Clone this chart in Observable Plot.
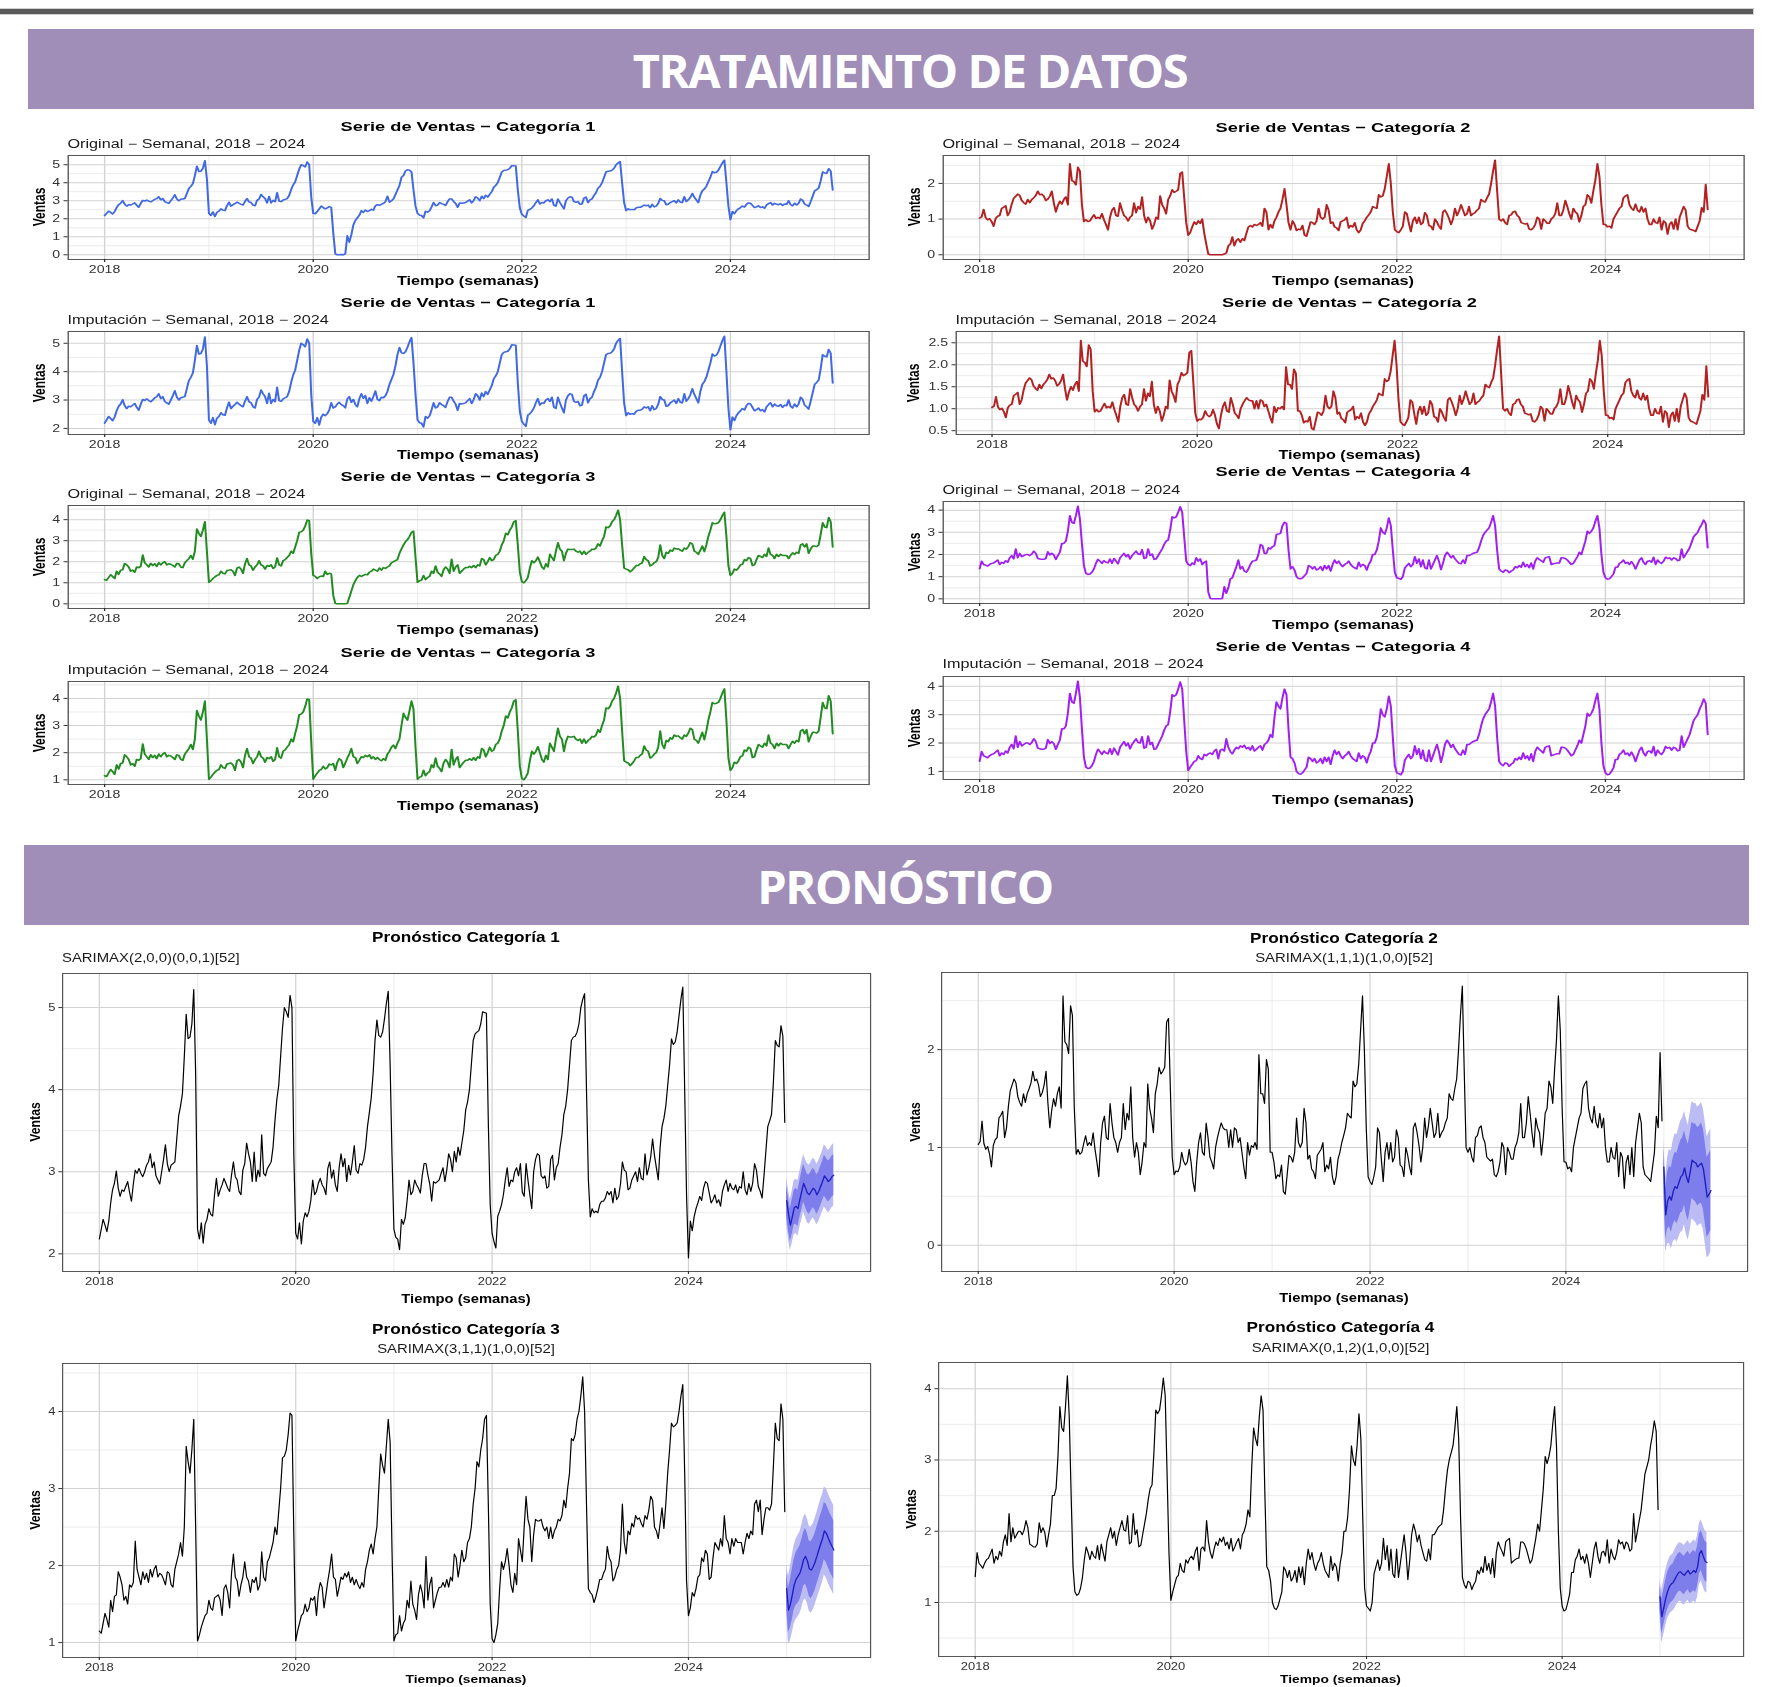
<!DOCTYPE html>
<html><head><meta charset="utf-8">
<script src="https://cdn.jsdelivr.net/npm/d3@7"></script>
<script src="https://cdn.jsdelivr.net/npm/@observablehq/plot@0.6"></script>
<style>
html,body{margin:0;padding:0;background:#fff;}
body{width:1777px;height:1687px;position:relative;overflow:hidden;font-family:"Liberation Sans",Arial,sans-serif;}
.chart{position:absolute;transform-origin:0 0;}
.topline{position:absolute;left:0;top:9px;width:1753px;height:5px;background:#5a5a5a;box-shadow:0 0 0 1px #cfcfcf;}
.banner{position:absolute;background:#a08db8;}
.btext{position:absolute;color:#fff;font-family:"Open Sans",sans-serif;font-weight:700;font-size:47px;letter-spacing:-1.4px;white-space:nowrap;line-height:1;transform:translate(-50%,-50%);}
</style>
</head><body>
<div class="topline"></div>
<div class="banner" style="left:28px;top:29px;width:1726px;height:80px;"></div>
<div class="btext" style="left:910px;top:70px;">TRATAMIENTO DE DATOS</div>
<div class="banner" style="left:24px;top:845px;width:1725px;height:80px;"></div>
<div class="btext" style="left:905px;top:886px;">PRONÓSTICO</div>
<script>
// ---------------- DATA (weekly, 52 per year) ----------------
const xMajor = [2018, 2020, 2022, 2024];
const xMinor = [2019, 2021, 2023, 2025];

// Categoría 1
const cat1_2018 = [2.18,2.30,2.42,2.35,2.27,2.40,2.62,2.78,2.86,3.01, 2.80,2.70,2.78,2.76,2.82,2.88,2.75,2.64,2.85,3.02, 2.98,3.04,2.98,2.94,3.00,3.08,3.12,3.22,3.05,3.12, 2.95,2.90,2.85,3.00,3.15,3.33,3.10,3.00,3.08,3.10, 3.12,3.40,3.68,3.80,3.95,4.40,4.92,4.62,4.64,4.80, 5.22,4.20];
const cat1_2019 = [2.30,2.18,2.38,2.13,2.36,2.42,2.55,2.48,2.46,2.72, 2.92,2.70,2.78,2.84,2.92,2.86,2.80,2.76,2.96,3.12, 2.94,2.90,2.76,2.72,3.02,3.10,3.35,3.22,3.12,2.88, 3.24,2.88,3.02,2.94,3.45,2.98,2.95,3.04,3.08,3.12, 3.30,3.62,3.88,4.05,4.40,4.75,5.00,4.95,4.88,5.15, 5.00,3.20];
const cat1_2020imp = [2.25,2.18,2.38,2.12,2.40,2.50,2.45,2.52,2.65,2.90, 2.72,2.76,2.86,2.92,2.84,2.80,2.72,3.04,3.12,2.92, 3.02,2.84,2.76,3.05,3.22,3.06,3.16,2.88,3.08,2.96, 3.12,3.32,3.02,2.98,3.10,3.08,3.15,3.30,3.55,3.72, 3.90,4.20,4.60,4.85,4.66,4.64,4.70,4.86,5.05,5.20, 4.30,3.20];
const cat1_2020orig = [2.30,2.28,2.40,2.55,2.70,2.62,2.55,2.60,2.68,2.62, 1.20,0.05,0.00,0.00,0.02,0.00,0.05,1.05,0.70,1.10, 1.65,1.90,2.05,2.20,2.45,2.35,2.48,2.40,2.45,2.52, 2.48,2.72,2.78,2.75,2.80,2.85,2.95,3.25,2.92,3.00, 3.10,3.35,3.60,3.85,4.30,4.40,4.65,4.72,4.70,4.60, 3.60,2.70];
const cat1_2021 = [2.30,2.20,2.18,2.05,2.42,2.36,2.44,2.65,2.90,2.72, 2.76,2.90,2.84,2.80,2.74,2.95,3.10,3.10,2.96,2.85, 2.64,2.88,2.86,2.88,2.90,2.98,3.05,2.88,3.02,3.22, 3.15,3.00,3.25,3.12,3.30,3.20,3.35,3.50,3.75,3.85, 4.00,4.30,4.60,4.68,4.70,4.72,4.80,4.95,4.94,4.93, 3.60,2.60];
const cat1_2022 = [2.25,2.15,2.07,2.46,2.52,2.60,2.72,2.90,3.05,2.82, 2.90,2.88,3.00,3.05,2.95,3.10,2.75,2.70,3.10,2.90, 2.72,2.55,3.00,3.15,3.22,3.20,2.95,2.92,2.95,2.80, 2.82,3.15,3.20,2.90,3.05,3.10,3.30,3.45,3.70,3.80, 4.00,4.30,4.60,4.64,4.65,4.70,4.80,5.00,5.10,5.17, 4.00,2.90];
const cat1_2023 = [2.45,2.55,2.50,2.52,2.50,2.60,2.64,2.64,2.68,2.76, 2.72,2.76,2.62,2.80,2.66,2.70,2.85,3.12,3.02,3.00, 2.78,2.80,2.90,2.95,3.00,2.88,3.05,2.92,2.90,3.22, 2.96,3.05,3.18,3.40,3.20,3.05,2.90,3.30,3.55,3.65, 3.80,4.05,4.30,4.62,4.55,4.58,4.70,4.90,5.10,5.25, 4.00,2.70];
const cat1_2024 = [1.95,2.40,2.28,2.45,2.55,2.62,2.70,2.65,2.80,2.88, 2.86,2.74,2.62,2.66,2.72,2.62,2.66,2.58,2.76,2.84, 2.90,2.76,2.86,2.80,2.78,2.84,2.74,2.82,2.80,3.00, 2.78,2.72,2.86,2.76,2.86,3.10,3.02,2.82,2.76,2.68, 2.95,3.25,3.55,3.62,3.70,4.10,4.60,4.54,4.52,4.78, 4.65,3.60];
const cat1_fcMean = [2.65,2.48,2.35,2.45,2.56,2.58,2.55,2.66,2.76,2.86, 2.80,2.74,2.72,2.76,2.80,2.78,2.72,2.76,2.82,2.88, 2.95,2.92,2.88,2.90,2.94,2.96];
const cat1_fcW80 = [0.18,0.20,0.20,0.21,0.21,0.22,0.22,0.22,0.23,0.23, 0.23,0.23,0.24,0.24,0.24,0.24,0.24,0.24,0.24,0.24, 0.25,0.25,0.25,0.25,0.25,0.25];
const cat1_fcW95 = [0.28,0.30,0.31,0.32,0.33,0.33,0.34,0.34,0.35,0.35, 0.35,0.36,0.36,0.36,0.36,0.37,0.37,0.37,0.37,0.37, 0.38,0.38,0.38,0.38,0.38,0.38];

// Categoría 2
const cat2_2018 = [1.03,1.06,1.27,1.04,0.98,1.01,0.93,0.80,1.02,1.08, 1.10,1.30,1.33,1.37,1.10,1.20,1.42,1.58,1.64,1.70, 1.66,1.52,1.46,1.42,1.55,1.46,1.55,1.60,1.66,1.78, 1.68,1.70,1.64,1.52,1.56,1.64,1.78,1.45,1.20,1.38, 1.50,1.42,1.55,1.62,1.40,2.55,2.08,2.05,1.96,2.45, 2.35,1.40];
const cat2_2019 = [0.93,0.98,0.93,0.95,1.04,1.12,1.02,1.05,1.02,1.15, 0.98,0.85,0.70,1.05,1.25,1.32,1.10,1.08,1.45,1.25, 1.10,1.05,0.95,1.05,1.10,1.45,1.18,1.35,1.28,1.62, 1.10,0.90,1.05,0.95,0.72,0.85,1.05,1.00,1.65,1.40, 1.30,1.15,1.55,1.65,1.82,1.75,1.78,1.82,2.28,2.32, 1.60,0.90];
const cat2_2020imp = [0.72,0.76,0.75,0.80,0.95,0.86,0.82,0.85,0.98,0.85, 0.65,0.55,0.85,1.05,1.15,0.95,0.92,1.25,1.10,0.90, 0.85,0.78,1.00,1.10,1.18,1.25,1.20,1.18,1.18,1.00, 1.18,1.00,1.20,1.18,1.05,1.10,0.95,0.80,0.68,1.05, 0.92,1.02,1.00,1.05,0.98,1.95,1.55,1.55,1.45,1.90, 1.80,0.95];
const cat2_2020orig = [0.55,0.62,0.78,0.92,0.85,0.95,0.88,1.00,0.60,0.30, 0.02,0.00,0.00,0.00,0.00,0.00,0.00,0.00,0.02,0.05, 0.25,0.30,0.50,0.25,0.40,0.45,0.35,0.45,0.40,0.60, 0.78,0.82,0.78,0.85,0.82,0.85,0.90,0.80,1.30,1.20, 0.70,0.85,0.75,0.95,1.05,1.20,1.30,1.55,1.85,1.40, 0.90,0.70];
const cat2_2021 = [0.95,0.85,0.68,0.72,0.70,0.82,0.55,0.52,0.72,0.92, 0.90,0.85,0.95,1.30,1.05,1.00,1.05,1.40,1.25,0.88, 0.92,0.78,0.75,0.68,0.92,0.95,0.98,1.05,0.75,0.82, 0.78,0.90,0.70,0.62,0.70,0.88,0.95,1.05,1.12,1.20, 1.35,1.32,1.30,1.68,1.62,1.65,1.85,2.20,2.55,2.00, 1.20,0.70];
const cat2_2022 = [0.65,0.62,0.70,0.80,1.20,1.15,0.88,0.65,0.95,1.05, 0.88,1.05,0.85,0.90,1.18,1.10,0.82,0.80,0.70,1.00, 0.92,0.80,0.72,1.20,1.25,1.15,1.02,0.85,1.00,1.30, 1.10,1.22,1.40,1.25,1.10,1.15,1.35,1.10,1.15,1.18, 1.25,1.30,1.55,1.50,1.48,1.60,1.70,2.00,2.35,2.65, 1.80,1.00];
const cat2_2023 = [0.95,1.00,0.90,0.85,1.10,1.12,1.20,1.22,1.10,1.05, 0.90,0.88,0.86,0.88,0.72,0.70,0.75,0.85,1.05,1.00, 0.72,1.00,0.95,0.88,0.88,1.00,1.05,1.15,1.45,1.10, 1.10,1.25,1.52,1.35,1.15,1.00,1.30,1.20,1.15,0.92, 1.10,1.35,1.40,1.68,1.62,1.45,1.80,2.10,2.55,2.20, 1.40,0.85];
const cat2_2024 = [0.85,0.78,0.80,0.75,1.00,1.10,1.20,1.30,1.35,1.60, 1.65,1.68,1.40,1.30,1.25,1.42,1.25,1.20,1.35,1.20, 1.30,1.00,0.85,0.85,1.00,0.90,0.88,1.05,0.70,0.95, 0.90,0.58,0.85,0.92,0.72,1.00,0.70,1.05,1.20,1.35, 1.25,0.80,0.72,0.70,0.68,0.65,0.80,0.95,1.32,1.20, 1.97,1.27];
const cat2_fcMean = [0.80,0.31,0.45,0.50,0.46,0.55,0.60,0.58,0.64,0.70, 0.72,0.79,0.70,0.64,0.75,0.87,0.85,0.84,0.80,0.82, 0.84,0.78,0.64,0.49,0.52,0.56];
const cat2_fcW80 = [0.18,0.25,0.29,0.31,0.33,0.34,0.35,0.36,0.37,0.37, 0.38,0.38,0.39,0.39,0.39,0.39,0.39,0.40,0.40,0.40, 0.41,0.41,0.41,0.41,0.41,0.41];
const cat2_fcW95 = [0.27,0.38,0.44,0.48,0.50,0.52,0.54,0.55,0.56,0.57, 0.58,0.58,0.59,0.59,0.60,0.60,0.60,0.61,0.61,0.61, 0.62,0.62,0.62,0.62,0.63,0.63];

// Categoría 3
const cat3_2018 = [1.15,1.12,1.25,1.38,1.30,1.20,1.55,1.40,1.60,1.62, 1.92,1.85,1.75,1.55,1.60,1.50,1.75,1.72,1.78,2.32, 1.95,1.85,1.75,1.92,1.82,1.90,1.78,1.95,1.85,1.95, 2.00,1.85,1.90,1.88,1.82,1.75,1.92,1.90,1.75,1.72, 1.95,2.05,2.15,2.30,2.12,2.50,3.55,3.35,3.20,3.50, 3.90,2.50];
const cat3_2019 = [1.02,1.10,1.20,1.28,1.35,1.38,1.55,1.45,1.42,1.58, 1.60,1.62,1.55,1.35,1.70,1.75,1.65,1.45,1.90,2.15, 1.85,1.80,1.60,1.75,1.85,2.05,1.85,1.80,1.65,1.82, 1.78,1.85,1.68,1.75,2.18,1.85,1.80,2.05,2.10,2.20, 2.30,2.50,2.40,2.70,3.00,3.40,3.42,3.50,3.70,3.98, 3.95,2.40];
const cat3_2020imp = [1.02,1.15,1.25,1.35,1.38,1.50,1.40,1.45,1.58,1.55, 1.60,1.35,1.65,1.78,1.72,1.45,1.62,1.80,1.95,2.15, 1.85,1.82,1.60,1.72,1.85,1.82,1.90,1.85,1.92,1.78, 1.85,1.75,1.82,1.75,1.70,1.78,1.72,1.95,2.05,2.20, 2.28,2.15,2.35,2.50,3.00,3.45,3.30,3.20,3.55,3.90, 3.60,2.20];
const cat3_2020orig = [1.35,1.30,1.20,1.28,1.32,1.30,1.55,1.40,1.45,1.42, 0.40,0.02,0.00,0.00,0.00,0.00,0.00,0.02,0.30,0.60, 0.90,1.10,1.25,1.35,1.30,1.35,1.40,1.38,1.50,1.55, 1.65,1.60,1.55,1.70,1.60,1.72,1.68,1.75,1.80,1.95, 2.00,2.05,2.10,2.40,2.60,2.80,2.95,3.05,3.20,3.40, 3.45,2.20];
const cat3_2021 = [1.02,1.10,1.12,1.35,1.15,1.25,1.30,1.55,1.45,1.80, 1.50,1.42,1.30,1.62,1.75,1.65,1.45,2.12,1.55,1.75, 1.85,1.45,1.55,1.65,1.72,1.72,1.78,1.72,1.82,1.72, 1.85,1.80,2.15,2.10,1.85,2.00,2.20,2.05,2.10,2.30, 2.35,2.50,2.80,3.00,3.35,3.28,3.50,3.65,3.90,3.95, 2.80,1.50];
const cat3_2022 = [1.05,1.00,1.10,1.25,1.70,2.05,1.95,2.05,2.22,2.00, 1.75,1.65,1.90,1.75,2.35,2.20,2.05,2.50,2.90,2.60, 2.50,2.05,2.40,2.60,2.58,2.58,2.60,2.50,2.45,2.50, 2.35,2.50,2.35,2.45,2.50,2.60,2.58,2.65,2.85,2.75, 3.00,3.20,3.65,3.62,3.70,3.90,4.00,4.20,4.45,4.00, 2.80,1.70];
const cat3_2023 = [1.65,1.62,1.52,1.60,1.70,1.82,1.82,1.90,1.95,2.25, 2.10,2.05,1.80,1.85,1.95,2.00,2.20,2.80,2.30,2.15, 2.45,2.40,2.55,2.50,2.65,2.60,2.62,2.55,2.50,2.65, 2.60,2.72,2.90,2.85,2.50,2.45,2.35,2.55,2.75,2.48, 2.80,3.20,3.50,3.85,3.80,3.82,3.85,4.00,4.20,4.35, 3.20,1.80];
const cat3_2024 = [1.35,1.45,1.65,1.60,1.70,1.85,1.88,2.10,2.05,2.20, 2.15,1.82,1.85,2.10,2.30,2.25,2.20,2.35,2.25,2.65, 2.35,2.30,2.15,2.35,2.25,2.35,2.30,2.30,2.30,2.15, 2.30,2.42,2.35,2.45,2.40,2.80,2.85,2.70,2.85,2.40, 2.60,2.75,2.75,2.72,2.80,3.30,3.85,3.65,3.62,4.10, 3.90,2.70];
const cat3_fcMean = [1.70,1.42,1.50,1.62,1.75,1.82,1.86,1.90,1.98,2.08, 2.12,2.06,1.96,1.94,1.98,2.04,2.12,2.20,2.28,2.35, 2.45,2.42,2.36,2.30,2.25,2.20];
const cat3_fcW80 = [0.20,0.29,0.31,0.33,0.33,0.34,0.35,0.35,0.35,0.35, 0.36,0.36,0.36,0.37,0.37,0.37,0.37,0.37,0.37,0.37, 0.37,0.38,0.38,0.38,0.38,0.38];
const cat3_fcW95 = [0.30,0.44,0.48,0.50,0.51,0.52,0.53,0.53,0.54,0.54, 0.55,0.55,0.55,0.56,0.56,0.56,0.56,0.57,0.57,0.57, 0.57,0.58,0.58,0.58,0.58,0.58];

// Categoría 4
const cat4_2018 = [1.36,1.70,1.55,1.52,1.48,1.55,1.60,1.62,1.68,1.75, 1.55,1.65,1.60,1.72,1.65,1.85,1.95,1.80,2.25,1.85, 2.05,1.90,1.95,2.00,2.00,1.95,2.02,2.15,2.05,1.82, 1.80,1.78,1.78,1.82,2.12,1.98,2.05,1.98,1.78,1.95, 2.10,2.50,2.50,2.60,3.05,3.75,3.45,3.40,3.75,4.18, 3.60,2.50];
const cat4_2019 = [1.50,1.15,1.10,1.12,1.20,1.35,1.60,1.78,1.70,1.60, 1.72,1.65,1.62,1.80,1.60,1.82,1.70,1.58,1.85,1.95, 2.05,1.90,2.00,1.80,1.95,2.05,2.15,2.02,2.00,2.22, 1.82,1.85,2.25,1.95,2.02,1.78,1.80,1.95,2.10,2.25, 2.45,2.60,2.65,3.10,3.70,3.65,3.70,3.90,4.15,3.90, 2.80,1.70];
const cat4_2020imp = [1.03,1.15,1.25,1.35,1.38,1.55,1.45,1.42,1.60,1.55, 1.62,1.65,1.60,1.72,1.78,1.45,1.75,1.78,1.72,2.15, 1.85,1.70,1.62,1.75,1.85,1.80,1.90,1.85,1.92,1.80, 1.85,1.75,1.90,1.72,1.78,1.85,1.90,1.75,1.95,2.00, 2.10,2.30,2.20,2.90,3.45,3.30,3.20,3.60,3.90,3.70, 2.50,1.50];
const cat4_2020orig = [1.55,1.50,1.62,1.55,1.85,1.70,1.80,1.55,1.65,1.70, 0.30,0.02,0.00,0.00,0.00,0.00,0.00,0.02,0.55,0.25, 0.50,0.90,0.95,1.20,1.45,1.75,1.35,1.45,1.25,1.20, 1.35,1.55,1.70,1.72,1.75,2.00,2.45,2.40,2.05,2.05, 2.30,2.25,2.35,2.40,2.90,2.92,2.95,3.30,3.45,3.40, 2.20,1.35];
const cat4_2021 = [1.45,1.30,1.00,0.92,0.90,0.95,1.05,1.15,1.50,1.45, 1.35,1.45,1.30,1.35,1.45,1.28,1.50,1.35,1.50,1.25, 1.55,1.75,1.60,1.70,1.55,1.45,1.55,1.60,1.70,1.55, 1.45,1.40,1.35,1.65,1.45,1.55,1.50,1.30,1.55,1.70, 2.00,2.00,2.20,2.60,3.20,3.00,2.92,3.20,3.65,3.30, 2.20,1.20];
const cat4_2022 = [0.95,0.92,0.88,1.00,1.40,1.50,1.60,1.45,1.55,1.90, 1.60,1.80,1.45,1.75,1.40,1.35,1.75,1.35,1.55,1.75, 1.95,1.70,1.32,1.60,1.95,2.10,2.00,1.85,1.95,1.80, 1.70,1.60,1.58,1.75,1.60,1.95,1.95,2.00,2.05,2.08, 2.10,2.30,2.60,2.85,3.00,3.10,3.20,3.45,3.75,3.30, 2.20,1.35];
const cat4_2023 = [1.25,1.20,1.30,1.28,1.18,1.25,1.30,1.45,1.40,1.50, 1.42,1.65,1.45,1.55,1.40,1.62,1.35,1.70,1.85,1.78, 1.72,1.65,1.85,1.88,1.90,1.55,1.58,1.60,1.62,1.62, 1.85,1.85,1.82,1.75,1.65,1.55,1.60,1.75,1.90,2.10, 2.00,2.30,2.60,3.05,2.95,3.05,3.20,3.50,3.75,3.20, 2.00,1.20];
const cat4_2024 = [0.95,0.88,0.90,1.00,1.12,1.42,1.42,1.60,1.65,1.75, 1.60,1.65,1.55,1.68,1.55,1.35,1.55,1.75,1.85,1.65, 1.55,1.70,1.72,1.65,1.88,1.55,1.75,1.65,1.60,1.70, 1.88,1.82,1.85,1.75,1.85,1.82,1.72,1.75,2.25,1.85, 2.00,2.15,2.30,2.55,2.80,2.90,3.00,3.20,3.35,3.55, 3.40,2.30];
const cat4_fcMean = [1.08,0.80,0.92,1.05,1.15,1.22,1.26,1.28,1.33,1.38, 1.42,1.43,1.40,1.38,1.42,1.45,1.40,1.42,1.45,1.42, 1.50,1.68,1.73,1.65,1.58,1.56];
const cat4_fcW80 = [0.16,0.24,0.25,0.25,0.26,0.26,0.26,0.26,0.27,0.27, 0.27,0.27,0.27,0.27,0.27,0.27,0.27,0.28,0.28,0.28, 0.28,0.28,0.28,0.28,0.28,0.28];
const cat4_fcW95 = [0.25,0.37,0.38,0.39,0.39,0.40,0.40,0.40,0.41,0.41, 0.41,0.41,0.42,0.42,0.42,0.42,0.42,0.42,0.43,0.43, 0.43,0.43,0.43,0.43,0.43,0.43];

// ---------------- BUILD TABLES ----------------
const startYear = 2018, freq = 52;
function weekly(values) { return values.map((v, i) => ({t: startYear + i / freq, v})); }
function forecast(mean, w80, w95) {
  return mean.map((m, j) => ({t: 2025 + j / freq, m, lo80: m - w80[j], hi80: m + w80[j], lo95: m - w95[j], hi95: m + w95[j]}));
}
const c1Orig = weekly([...cat1_2018, ...cat1_2019, ...cat1_2020orig, ...cat1_2021, ...cat1_2022, ...cat1_2023, ...cat1_2024]);
const c1Imp  = weekly([...cat1_2018, ...cat1_2019, ...cat1_2020imp,  ...cat1_2021, ...cat1_2022, ...cat1_2023, ...cat1_2024]);
const c2Orig = weekly([...cat2_2018, ...cat2_2019, ...cat2_2020orig, ...cat2_2021, ...cat2_2022, ...cat2_2023, ...cat2_2024]);
const c2Imp  = weekly([...cat2_2018, ...cat2_2019, ...cat2_2020imp,  ...cat2_2021, ...cat2_2022, ...cat2_2023, ...cat2_2024]);
const c3Orig = weekly([...cat3_2018, ...cat3_2019, ...cat3_2020orig, ...cat3_2021, ...cat3_2022, ...cat3_2023, ...cat3_2024]);
const c3Imp  = weekly([...cat3_2018, ...cat3_2019, ...cat3_2020imp,  ...cat3_2021, ...cat3_2022, ...cat3_2023, ...cat3_2024]);
const c4Orig = weekly([...cat4_2018, ...cat4_2019, ...cat4_2020orig, ...cat4_2021, ...cat4_2022, ...cat4_2023, ...cat4_2024]);
const c4Imp  = weekly([...cat4_2018, ...cat4_2019, ...cat4_2020imp,  ...cat4_2021, ...cat4_2022, ...cat4_2023, ...cat4_2024]);
const f1 = forecast(cat1_fcMean, cat1_fcW80, cat1_fcW95);
const f2 = forecast(cat2_fcMean, cat2_fcW80, cat2_fcW95);
const f3 = forecast(cat3_fcMean, cat3_fcW80, cat3_fcW95);
const f4 = forecast(cat4_fcMean, cat4_fcW80, cat4_fcW95);

// ---------------- DRAW ----------------
function expand([a, b]) { const r = b - a; return [a - 0.05 * r, b + 0.05 * r]; }
function addText(parent, txt, x, y, o) {
  const el = document.createElement("div");
  el.textContent = txt;
  const tx = o.anchor === "start" ? "0" : "-50%";
  el.style.cssText = `position:absolute;left:${x}px;top:${y}px;white-space:nowrap;line-height:1;` +
    `font-size:${o.size}px;font-weight:${o.bold ? 700 : 400};color:${o.color || "#000"};` +
    `transform:translate(${tx},-50%)${o.rotate ? " rotate(-90deg)" : ""};`;
  parent.appendChild(el);
}

function chart(o) {
  const sx = o.sx, mL = 30, mR = 8, mT = 4, mB = 24;
  const innerW = (o.PR - o.PL) / sx;
  const W = mL + innerW + mR;
  const H = mT + (o.PB - o.PT) + mB;
  const CL = o.PL - mL * sx, CT = o.PT - mT;
  const box = document.createElement("div");
  box.className = "chart";
  box.style.left = CL + "px"; box.style.top = CT + "px";
  box.style.width = W + "px"; box.style.height = H + "px";
  box.style.transform = `scaleX(${sx})`;
  document.body.appendChild(box);

  const vals = o.series.map(d => d.v);
  const ts = o.series.map(d => d.t);
  if (o.fc) o.fc.forEach(d => { vals.push(d.lo95, d.hi95); ts.push(d.t); });
  const yDom = expand(d3.extent(vals));
  const xDom = expand(d3.extent(ts));
  const inY = v => v > yDom[0] && v < yDom[1];
  const inX = v => v > xDom[0] && v < xDom[1];

  const marks = [
    Plot.gridX(xMinor.filter(inX), {stroke: "#e6e6e6", strokeOpacity: 1, strokeWidth: 0.7}),
    Plot.gridY(o.yMinor.filter(inY), {stroke: "#e6e6e6", strokeOpacity: 1, strokeWidth: 0.7}),
    Plot.gridX(xMajor, {stroke: "#d2d2d2", strokeOpacity: 1, strokeWidth: 1}),
    Plot.gridY(o.yTicks, {stroke: "#d2d2d2", strokeOpacity: 1, strokeWidth: 1})
  ];
  if (o.fc) {
    marks.push(
      Plot.areaY(o.fc, {x: "t", y1: "lo95", y2: "hi95", fill: "#bcbcf4"}),
      Plot.areaY(o.fc, {x: "t", y1: "lo80", y2: "hi80", fill: "#7d7dec"}),
      Plot.line(o.fc, {x: "t", y: "m", stroke: "#1c1cbf", strokeWidth: 1.1})
    );
  }
  marks.push(
    Plot.line(o.series, {x: "t", y: "v", stroke: o.color, strokeWidth: o.lw}),
    Plot.frame({stroke: "#555", strokeWidth: 1}),
    Plot.axisX(xMajor, {tickFormat: d => String(d), tickSize: 3, tickPadding: 3, fontSize: o.tick, label: null}),
    Plot.axisY(o.yTicks, {tickFormat: o.yFormat || (d => String(d)), tickSize: 3, tickPadding: 3, fontSize: o.tick, label: null})
  );
  const svg = Plot.plot({
    width: W, height: H, marginLeft: mL, marginRight: mR, marginTop: mT, marginBottom: mB,
    x: {domain: xDom, label: null},
    y: {domain: yDom, label: null},
    style: {fontFamily: "Liberation Sans, Arial, sans-serif", fontSize: o.tick + "px", color: "#333", background: "transparent", overflow: "visible"},
    marks
  });
  svg.style.position = "absolute"; svg.style.left = "0px"; svg.style.top = "0px";
  box.appendChild(svg);

  const cx = mL + innerW / 2;
  addText(box, o.title, cx, o.titleY - CT, {size: o.tSize, bold: true});
  if (o.subAlign === "start") addText(box, o.subtitle, mL, o.subY - CT, {size: o.sSize, anchor: "start", color: "#1a1a1a"});
  else addText(box, o.subtitle, cx, o.subY - CT, {size: o.sSize, color: "#1a1a1a"});
  addText(box, "Tiempo (semanas)", cx, o.xtY - CT, {size: o.xtSize || o.aSize, bold: true});
  addText(box, "Ventas", (o.ytX - CL) / sx, mT + (o.PB - o.PT) / 2, {size: o.aSize, bold: true, rotate: true});
}

const small = {sx: 1.35, tick: 10.5, tSize: 13.5, sSize: 12, aSize: 12, lw: 1.5, subAlign: "start"};
const big = {sx: 1.2, tick: 10.8, tSize: 14.3, sSize: 12.4, aSize: 12.3, lw: 1, color: "#000"};

const T1 = "Serie de Ventas − Categoría 1", T2 = "Serie de Ventas − Categoría 2",
      T3 = "Serie de Ventas − Categoría 3", T4 = "Serie de Ventas − Categoria 4";
const SO = "Original − Semanal, 2018 − 2024", SI = "Imputación − Semanal, 2018 − 2024";

chart({...small, series: c1Orig, color: "#4169e1", title: T1, subtitle: SO, PL: 67, PR: 868, PT: 155, PB: 259, titleY: 127, subY: 144, xtY: 281, ytX: 38, yTicks: [0,1,2,3,4,5], yMinor: [0.5,1.5,2.5,3.5,4.5]});
chart({...small, series: c1Imp, color: "#4169e1", title: T1, subtitle: SI, PL: 67, PR: 868, PT: 331, PB: 434, titleY: 302.5, subY: 319.5, xtY: 455, ytX: 38, yTicks: [2,3,4,5], yMinor: [2.5,3.5,4.5]});
chart({...small, series: c3Orig, color: "#228b22", title: T3, subtitle: SO, PL: 67, PR: 868, PT: 505, PB: 608, titleY: 477, subY: 494, xtY: 630, ytX: 38, yTicks: [0,1,2,3,4], yMinor: [0.5,1.5,2.5,3.5,4.5]});
chart({...small, series: c3Imp, color: "#228b22", title: T3, subtitle: SI, PL: 67, PR: 868, PT: 681, PB: 784, titleY: 653, subY: 670, xtY: 806, ytX: 38, yTicks: [1,2,3,4], yMinor: [1.5,2.5,3.5,4.5]});

chart({...small, series: c2Orig, color: "#b22222", title: T2, subtitle: SO, PL: 942, PR: 1743, PT: 155, PB: 259, titleY: 127.5, subY: 144, xtY: 281, ytX: 913, yTicks: [0,1,2], yMinor: [0.5,1.5,2.5]});
chart({...small, series: c2Imp, color: "#b22222", title: T2, subtitle: SI, PL: 955, PR: 1743, PT: 331, PB: 434, titleY: 302.5, subY: 319.5, xtY: 455, ytX: 913, yTicks: [0.5,1,1.5,2,2.5], yMinor: [0.75,1.25,1.75,2.25], yFormat: d3.format(".1f")});
chart({...small, series: c4Orig, color: "#a020f0", title: T4, subtitle: SO, PL: 942, PR: 1743, PT: 501, PB: 603, titleY: 472, subY: 489.5, xtY: 625, ytX: 913, yTicks: [0,1,2,3,4], yMinor: [0.5,1.5,2.5,3.5]});
chart({...small, series: c4Imp, color: "#a020f0", title: T4, subtitle: SI, PL: 942, PR: 1743, PT: 676, PB: 779, titleY: 647, subY: 664, xtY: 800, ytX: 913, yTicks: [1,2,3,4], yMinor: [1.5,2.5,3.5]});

chart({...big, series: c1Imp, fc: f1, title: "Pronóstico Categoría 1", subtitle: "SARIMAX(2,0,0)(0,0,1)[52]", subAlign: "start", PL: 62, PR: 870, PT: 973, PB: 1271, titleY: 937, subY: 958, xtY: 1298.5, ytX: 36, yTicks: [2,3,4,5], yMinor: [2.5,3.5,4.5]});
chart({...big, series: c2Imp, fc: f2, title: "Pronóstico Categoría 2", subtitle: "SARIMAX(1,1,1)(1,0,0)[52]", subAlign: "middle", PL: 941, PR: 1747, PT: 972, PB: 1271, titleY: 938, subY: 958, xtY: 1298, ytX: 916, yTicks: [0,1,2], yMinor: [0.5,1.5,2.5]});
chart({...big, series: c3Imp, fc: f3, title: "Pronóstico Categoría 3", subtitle: "SARIMAX(3,1,1)(1,0,0)[52]", subAlign: "middle", PL: 62, PR: 870, PT: 1363, PB: 1657, titleY: 1329, subY: 1349, xtY: 1679.5, xtSize: 11.5, ytX: 36, yTicks: [1,2,3,4], yMinor: [1.5,2.5,3.5,4.5]});
chart({...big, series: c4Imp, fc: f4, title: "Pronóstico Categoría 4", subtitle: "SARIMAX(0,1,2)(1,0,0)[52]", subAlign: "middle", PL: 938, PR: 1743, PT: 1362, PB: 1656, titleY: 1327, subY: 1348, xtY: 1679.5, xtSize: 11.5, ytX: 911, yTicks: [1,2,3,4], yMinor: [0.5,1.5,2.5,3.5]});
</script>
</body></html>
